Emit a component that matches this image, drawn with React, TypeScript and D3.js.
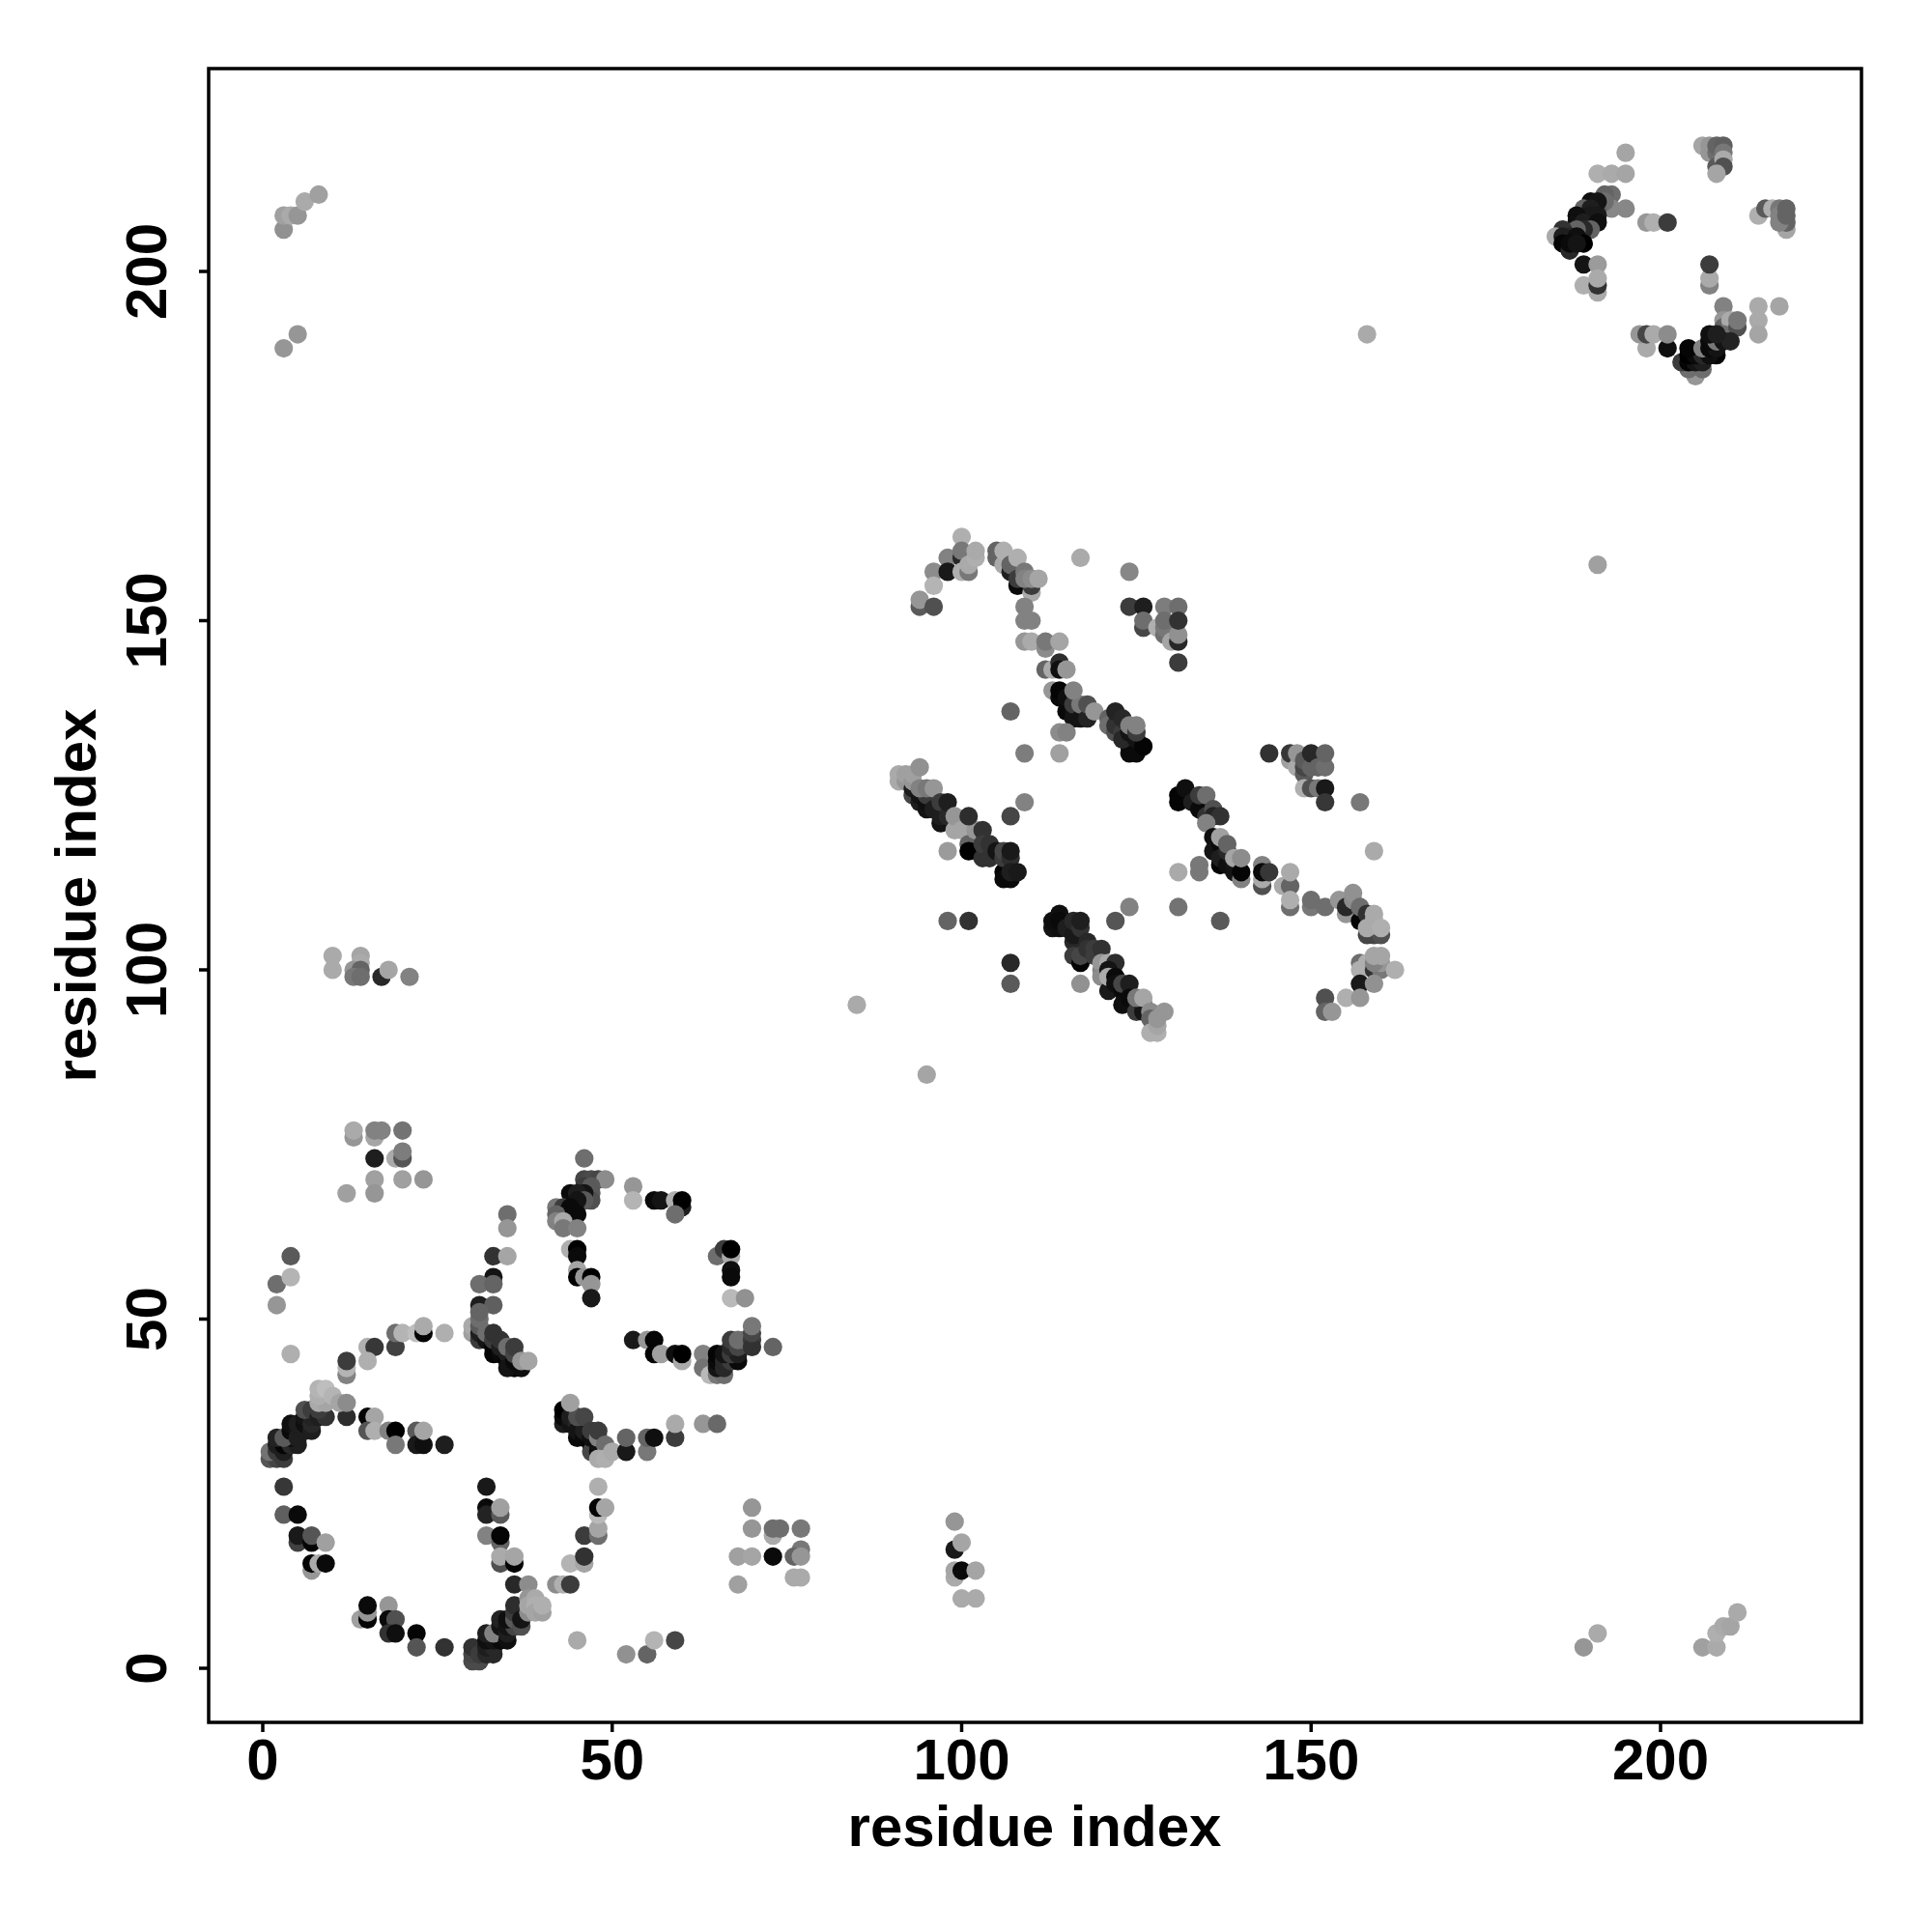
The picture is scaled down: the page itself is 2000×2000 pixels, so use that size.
import React from "react";
import * as d3 from "d3";

type P = [number, number, number];

const lowerArc: P[] = [[3,26,55],[3,22,95],[5,22,10],[5,18,65],[5,19,25],[7,18,5],[7,19,85],[9,18,160],[7,14,150],[7,15,5],[8,15,170],[9,15,10],[14,7,160],[15,7,5],[15,8,150],[15,9,10],[18,9,150],[18,7,10],[19,7,80],[18,5,50],[19,5,15],[22,5,5],[22,3,85],[26,3,50]];
const lowerBand: P[] = [[30,1,75],[31,1,75],[30,2,70],[30,3,50],[31,2,60],[32,2,40],[33,2,40],[32,3,30],[33,3,40],[32,4,15],[33,4,20],[32,5,30],[34,4,10],[34,5,20],[33,5,130],[34,6,20],[35,4,15],[35,5,30],[34,7,35],[35,6,20],[36,6,70],[35,7,15],[36,7,90],[37,6,80],[36,8,60],[36,9,45],[37,7,20],[36,12,40],[38,12,140],[38,8,140],[38,10,150],[38,9,165],[39,10,170],[39,9,175],[39,8,165],[40,8,160],[40,9,175],[42,12,140],[43,12,175],[44,12,60],[44,15,180],[46,15,165],[46,16,50],[46,19,60],[48,19,110],[48,20,165],[48,22,185],[48,23,5],[49,23,165],[48,26,175]];
const midColumn: P[] = [[32,26,25],[32,23,10],[32,22,35],[34,22,90],[34,23,160],[32,19,130],[34,18,100],[34,19,5],[34,15,80],[34,16,170],[36,15,5],[36,16,165],[45,4,170],[52,2,145],[55,2,100],[56,4,180],[59,4,70]];
const contactsA: P[] = [[13,76,150],[13,77,170],[16,76,165],[16,77,130],[17,77,130],[20,77,115],[16,73,30],[19,73,170],[20,73,85],[20,74,125],[16,70,160],[20,70,160],[23,70,150],[12,68,160],[16,68,150],[4,59,90],[2,55,110],[4,56,180],[2,52,150],[4,45,175],[12,42,130],[12,43,180],[12,44,60],[15,46,175],[16,46,55],[15,44,175],[19,46,65],[19,48,110],[20,48,180],[22,48,190],[23,48,5],[23,49,170],[26,48,175]];
const ringBand: P[] = [[1,30,85],[2,30,70],[3,30,60],[1,31,115],[2,31,60],[3,31,30],[2,32,30],[3,32,5],[2,33,35],[4,32,40],[5,32,30],[4,33,15],[3,33,90],[4,34,10],[4,35,15],[5,34,20],[5,33,30],[6,34,30],[5,35,30],[6,35,15],[7,34,30],[6,36,20],[7,35,40],[7,36,35],[6,37,80],[7,37,60],[8,36,30],[9,36,50],[8,37,60],[12,36,45],[8,38,170],[9,38,165],[8,39,175],[8,40,180],[9,40,190],[10,39,180],[11,38,165],[12,38,140],[15,36,5],[16,36,165],[15,34,85],[16,34,175],[18,34,130],[19,34,0],[19,32,120],[22,34,90],[22,32,25],[23,32,15],[23,34,165],[26,32,30]];
const midBand: P[] = [[33,56,20],[35,65,110],[35,63,150],[33,59,50],[35,59,165],[31,55,110],[33,55,100],[31,52,30],[33,52,95],[30,48,160],[30,49,170],[31,47,60],[31,48,30],[31,49,90],[31,50,110],[31,51,100],[32,47,20],[32,48,110],[33,46,5],[33,45,5],[33,47,60],[33,48,50],[34,45,10],[34,46,30],[34,47,50],[35,44,5],[35,45,30],[35,46,110],[36,43,5],[35,43,20],[37,43,15],[36,44,10],[36,45,70],[36,46,60],[37,44,150],[38,44,165]];
const upperLobe: P[] = [[46,73,110],[46,70,70],[47,70,75],[48,70,70],[49,70,140],[46,69,60],[47,69,90],[47,68,90],[47,67,80],[46,68,20],[44,68,10],[45,68,30],[46,67,90],[45,67,20],[42,66,120],[43,66,60],[44,66,10],[44,65,10],[45,65,10],[43,65,10],[42,65,100],[42,64,130],[43,64,170],[43,63,120],[45,63,130],[44,60,175],[45,60,0],[45,59,10],[45,57,165],[45,56,0],[46,56,150],[47,56,0],[47,55,150],[47,53,25],[53,69,150],[53,67,180],[56,67,10],[57,67,20],[59,67,175],[60,66,30],[60,67,0],[59,65,110],[65,59,110],[66,60,60],[67,59,170],[67,60,0],[67,57,15],[67,56,10],[67,53,185],[69,53,145]];
const rightLobe: P[] = [[53,47,25],[55,47,150],[56,47,5],[56,45,5],[57,45,160],[59,45,15],[60,44,170],[60,45,0],[63,45,130],[63,43,115],[64,42,185],[65,42,120],[66,42,110],[65,43,20],[65,44,10],[65,45,5],[66,43,40],[66,44,40],[67,44,60],[66,45,20],[68,44,10],[67,45,60],[68,45,30],[67,46,40],[67,47,60],[68,46,70],[68,47,110],[69,47,110],[70,47,60],[70,46,50],[70,48,70],[70,49,120],[73,46,100]];
const lowerRightBand: P[] = [[43,35,30],[43,36,10],[43,37,0],[44,35,20],[44,36,30],[45,35,40],[45,33,10],[45,34,20],[46,33,10],[46,34,30],[45,36,80],[44,38,160],[46,36,70],[47,32,5],[47,31,70],[47,33,15],[48,31,10],[48,32,15],[47,34,60],[48,33,130],[48,34,60],[49,31,5],[49,32,110],[48,30,170],[49,30,175],[50,31,170],[52,31,25],[52,33,100],[55,31,120],[55,33,100],[56,33,15],[59,33,60],[59,35,170],[63,35,150],[65,35,105]];
const lowerFar: P[] = [[70,23,150],[70,20,150],[73,19,170],[73,20,110],[74,20,110],[77,20,120],[68,16,160],[70,16,165],[73,16,10],[77,17,120],[76,16,100],[77,16,150],[68,12,160],[76,13,170],[77,13,170],[99,21,150],[99,17,25],[100,18,165],[99,13,170],[99,14,165],[100,14,10],[102,14,165],[100,10,170],[102,10,170],[189,3,150],[191,5,170],[206,3,160],[208,3,170],[208,5,175],[209,6,170],[210,6,165],[211,8,170]];
const upperFar: P[] = [[3,189,150],[5,191,150],[3,206,145],[3,208,160],[4,208,170],[5,208,150],[6,210,170],[8,211,160],[10,102,170],[10,100,170],[14,102,165],[14,101,170],[13,100,150],[14,100,100],[13,99,120],[14,99,110],[17,99,40],[18,100,165],[21,99,130],[85,95,170],[95,85,165],[158,191,170],[191,158,160]];
const topRight: P[] = [[195,217,165],[191,214,175],[193,214,170],[195,214,165],[193,211,110],[192,211,100],[195,209,135],[193,209,135],[192,210,110],[191,209,100],[190,210,15],[191,210,20],[189,209,100],[190,209,30],[190,208,25],[191,208,25],[188,208,15],[188,207,15],[189,207,30],[191,207,15],[190,206,100],[189,206,40],[188,206,100],[186,206,50],[187,205,40],[185,205,170],[186,205,30],[188,205,15],[186,204,5],[187,203,40],[187,204,10],[189,204,0],[188,204,20],[189,201,20],[191,201,155],[189,198,175],[191,197,170],[191,198,50],[191,199,170],[198,207,150],[199,207,175],[201,207,60],[206,218,165],[207,218,150],[207,217,150],[208,217,110],[208,218,100],[209,218,95],[209,217,120],[208,215,90],[209,216,170],[209,215,80],[208,214,165],[214,208,175],[215,209,90],[216,209,175],[217,209,120],[217,208,130],[218,206,165],[218,207,100],[217,207,130],[218,208,100],[218,209,100],[207,198,130],[207,199,170],[207,201,60],[209,195,130],[214,195,170],[217,195,165],[214,193,170],[214,191,165],[209,193,150],[209,192,100],[210,193,170],[209,191,110],[211,192,80],[211,193,120]];
const topRightBand: P[] = [[205,185,150],[204,186,110],[206,186,110],[203,187,60],[204,187,5],[205,187,20],[206,187,30],[204,188,0],[205,188,10],[206,188,40],[208,188,5],[207,188,15],[204,189,5],[206,189,130],[207,189,10],[208,189,20],[207,190,10],[208,190,120],[209,190,20],[210,190,35],[207,191,15],[208,191,30],[198,189,170],[201,189,15],[197,191,150],[198,191,70],[199,191,170],[201,191,140]];
const middleCap: P[] = [[100,162,175],[98,159,130],[96,157,140],[98,157,25],[96,155,180],[94,152,90],[94,153,150],[96,152,80],[100,159,40],[100,160,120],[100,157,175],[101,157,120],[101,158,170],[102,159,175],[102,160,170],[105,159,100],[105,160,100],[106,158,170],[106,160,175],[107,157,30],[107,158,100],[108,159,175],[108,155,10],[108,156,60],[110,154,170],[110,155,60],[109,157,120],[109,156,130],[110,156,140],[111,156,165],[109,152,130],[109,150,130],[110,150,130],[109,147,150],[110,147,170],[112,146,140],[112,147,120],[114,147,165],[117,159,170],[124,157,135],[124,152,60],[126,152,30],[126,149,180],[126,149,70],[126,150,110],[129,152,125],[131,152,110],[128,149,175],[129,148,110],[129,149,120],[129,150,110],[130,147,165],[131,147,40],[131,148,145],[131,150,50],[131,144,60]];
const bandB: P[] = [[112,143,100],[113,143,170],[114,144,45],[114,143,15],[115,143,150],[113,140,150],[115,137,10],[114,139,10],[114,140,5],[115,139,15],[116,137,15],[116,136,20],[116,138,60],[117,136,20],[117,138,120],[118,136,35],[118,138,80],[116,140,130],[119,137,150],[121,136,100],[121,135,110],[122,134,80],[122,135,50],[122,137,35],[123,134,60],[123,136,40],[124,131,10],[124,132,10],[123,133,40],[124,134,20],[125,131,10],[125,133,20],[126,132,5],[124,135,130],[125,134,60],[125,135,130],[107,137,100],[114,134,140],[115,134,130],[109,131,125],[114,131,160]];
const bandC: P[] = [[91,127,170],[91,128,170],[92,127,150],[92,128,160],[93,125,70],[93,126,30],[93,127,150],[93,128,160],[94,129,145],[94,124,30],[94,125,20],[95,123,20],[95,124,15],[95,125,60],[96,123,30],[94,126,130],[95,126,120],[96,126,150],[97,121,20],[97,122,30],[97,124,60],[98,122,40],[98,124,30],[99,120,165],[99,122,150],[100,120,165],[101,118,100],[102,120,150],[101,122,45],[103,120,50],[102,117,70],[101,117,0],[98,117,155],[103,116,50],[103,118,60],[104,116,50],[104,118,50],[105,117,20],[106,114,5],[106,113,10],[106,116,60],[106,117,70],[107,113,10],[107,116,45],[107,114,30],[107,117,25],[108,114,25],[107,122,70],[109,124,130]];
const bandD: P[] = [[98,107,100],[101,107,50],[113,106,20],[113,107,15],[114,108,15],[114,106,15],[114,107,10],[115,106,30],[116,104,40],[116,105,25],[116,107,40],[117,106,50],[117,107,30],[116,102,60],[117,101,5],[117,102,70],[118,104,40],[118,103,50],[119,103,60],[119,102,60],[120,103,50],[120,100,130],[120,101,150],[121,101,170],[122,101,45],[122,107,85],[124,109,130],[131,109,115],[117,98,145],[107,101,40],[107,98,90],[120,99,140],[121,100,20],[121,97,25],[121,99,170],[122,99,10],[122,98,15],[123,97,10],[123,95,15],[123,98,70],[124,98,30],[124,96,10],[125,95,15],[125,94,60],[126,95,30],[126,94,20],[125,96,120],[126,96,165],[127,94,140],[127,93,100],[127,91,175],[128,91,175],[128,92,165],[128,93,150],[129,94,150]];
const bandE: P[] = [[131,114,170],[134,115,120],[134,114,120],[131,124,5],[131,125,5],[132,126,15],[133,124,30],[134,123,10],[134,125,60],[135,122,50],[135,125,110],[136,123,80],[136,122,35],[137,122,50],[135,121,130],[136,119,15],[136,117,20],[137,118,10],[137,115,5],[137,116,30],[137,119,160],[138,115,15],[138,117,40],[138,118,100],[139,114,20],[139,115,20],[139,116,165],[140,113,130],[140,114,5],[140,116,140],[137,107,90]];
const bandF: P[] = [[144,131,50],[147,130,160],[147,131,55],[148,129,170],[148,131,150],[149,128,90],[149,129,70],[149,130,90],[150,129,100],[150,131,40],[151,129,100],[152,129,110],[152,131,100],[149,126,175],[150,126,80],[151,126,120],[152,126,25],[152,124,55],[157,124,120],[159,117,170],[143,112,80],[143,113,170],[143,115,130],[143,114,10],[144,114,55],[146,112,170],[147,112,100],[147,114,170],[147,109,110],[147,110,175],[150,109,120],[150,110,110],[152,109,110],[154,110,150],[155,108,150],[155,109,40],[156,110,140],[156,111,145],[157,107,5],[157,109,110],[158,108,50],[158,105,70],[159,105,70],[160,105,80],[158,106,170],[159,107,170],[159,108,170],[160,106,175]];
const bandG: P[] = [[157,101,110],[157,100,175],[158,101,175],[159,100,50],[160,100,120],[160,101,150],[159,101,130],[159,102,165],[160,102,165],[162,100,175],[157,98,25],[159,98,145],[155,96,175],[157,96,150],[152,96,80],[152,94,100],[153,94,150]];

const groups: P[][] = [lowerArc, lowerBand, midColumn, contactsA, ringBand, midBand, upperLobe, rightLobe, lowerRightBand, lowerFar, upperFar, topRight, topRightBand, middleCap, bandB, bandC, bandD, bandE, bandF, bandG];
const tickValues = [0, 50, 100, 150, 200];
const axisLabel = "residue index";

const x = d3.scaleLinear().domain([0, 200]).range([272, 1719]);
const y = d3.scaleLinear().domain([0, 200]).range([1727, 281]);
const frame = { left: 216, right: 1927, top: 71, bottom: 1783 };
const font = "'Liberation Sans', Arial, sans-serif";
const labelSize = 60;

export default function App() {
  return (
    <svg width={2000} height={2000} style={{ position: "absolute", left: 0, top: 0, background: "#fff" }}>
      {groups.flat().map(([a, b, g], i) => (
        <circle key={i} cx={x(a)} cy={y(b)} r={9.6} fill={d3.rgb(g, g, g).formatHex()} />
      ))}
      <rect x={frame.left} y={frame.top} width={frame.right - frame.left} height={frame.bottom - frame.top} fill="none" stroke="#000" strokeWidth={3.5} />
      {tickValues.map((t) => (
        <g key={t}>
          <line x1={x(t)} x2={x(t)} y1={frame.bottom} y2={frame.bottom + 10} stroke="#000" strokeWidth={3.5} />
          <line y1={y(t)} y2={y(t)} x1={frame.left} x2={frame.left - 10} stroke="#000" strokeWidth={3.5} />
          <text x={x(t)} y={1842} textAnchor="middle" fontFamily={font} fontWeight="bold" fontSize={labelSize}>{t}</text>
          <text transform={`translate(172,${y(t)}) rotate(-90)`} textAnchor="middle" fontFamily={font} fontWeight="bold" fontSize={labelSize}>{t}</text>
        </g>
      ))}
      <text x={1071} y={1911} textAnchor="middle" fontFamily={font} fontWeight="bold" fontSize={labelSize}>{axisLabel}</text>
      <text transform={`translate(99,927) rotate(-90)`} textAnchor="middle" fontFamily={font} fontWeight="bold" fontSize={labelSize}>{axisLabel}</text>
    </svg>
  );
}
